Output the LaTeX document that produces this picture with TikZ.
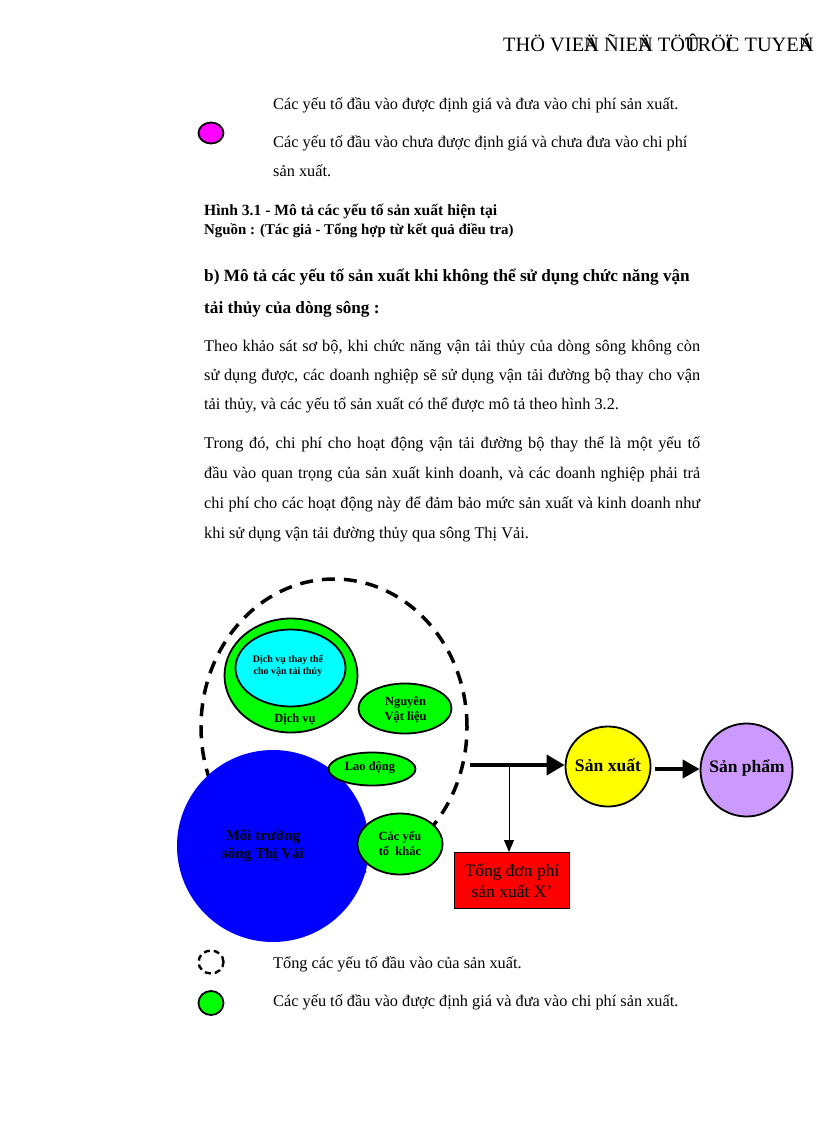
\documentclass[tikz,border=0pt]{standalone}
\usepackage{fontspec}
\setmainfont{Liberation Serif}
\usetikzlibrary{shapes.geometric,arrows.meta}
\definecolor{gr}{RGB}{0,255,0}
\definecolor{bl}{RGB}{0,0,255}
\definecolor{cy}{RGB}{0,255,255}
\definecolor{pu}{RGB}{204,153,255}
\definecolor{ye}{RGB}{255,255,0}
\definecolor{mg}{RGB}{255,0,255}
\newcommand{\sz}[1]{\fontsize{#1}{#1}\selectfont}
\tikzset{
 bodytxt/.style={anchor=base west,inner sep=0pt,font=\sz{16.3}},
 headtxt/.style={anchor=base west,inner sep=0pt,font=\bfseries\sz{17.2}},
 captxt/.style={anchor=base west,inner sep=0pt,font=\bfseries},
 ell/.style={ellipse,draw=black,line width=1.8pt,inner sep=0pt,align=center,font=\bfseries},
 lab/.style={inner sep=0pt,align=center,font=\bfseries},
 fatarr/.style={line width=4pt,-{Triangle[length=18pt,width=20pt]}},
 thinarr/.style={line width=1pt,-{Triangle[length=12pt,width=10pt]}},
}
\newcommand{\jl}[1]{\makebox[496pt][s]{#1}}
\begin{document}
\begin{tikzpicture}[x=1pt,y=-1pt]
\useasboundingbox (0,0) rectangle (816,1123);
\node[anchor=base west,inner sep=0pt,font=\sz{20.4}] (hdr) at (503,52) {THÖ VIE\rlap{Ä}N ÑIE\rlap{Ä}N TÖ\rlap{Û}TRÖ\rlap{Ï}C TUYE\rlap{Á}N};
\node[bodytxt] (t1) at (273,110) {Các yếu tố đầu vào được định giá và đưa vào chi phí sản xuất.};
\node[bodytxt] (t2) at (273,148) {Các yếu tố đầu vào chưa được định giá và chưa đưa vào chi phí};
\node[bodytxt] (t3) at (273,177) {sản xuất.};
\node[ell,fill=mg,minimum width=25pt,minimum height=21pt] (lg0) at (211,133) {};
\node[captxt,font=\bfseries\sz{15.6}] (c1) at (204,215) {Hình 3.1 - Mô tả các yếu tố sản xuất hiện tại};
\node[captxt,font=\bfseries\sz{14.9}] (c2) at (204,234) {Nguồn : (Tác giả - Tổng hợp từ kết quả điều tra)};
\node[headtxt] (h1) at (204,281) {b) Mô tả các yếu tố sản xuất khi không thể sử dụng chức năng vận};
\node[headtxt] (h2) at (204,313) {tải thủy của dòng sông :};
\node[bodytxt] (p1) at (204,351) {\jl{Theo khảo sát sơ bộ, khi chức năng vận tải thủy của dòng sông không còn}};
\node[bodytxt] (p2) at (204,380) {\jl{sử dụng được, các doanh nghiệp sẽ sử dụng vận tải đường bộ thay cho vận}};
\node[bodytxt] (p3) at (204,409) {tải thủy, và các yếu tố sản xuất có thể được mô tả theo hình 3.2.};
\node[bodytxt] (p4) at (204,448) {\jl{Trong đó, chi phí cho hoạt động vận tải đường bộ thay thế là một yếu tố}};
\node[bodytxt] (p5) at (204,478) {\jl{đầu vào quan trọng của sản xuất kinh doanh, và các doanh nghiệp phải trả}};
\node[bodytxt] (p6) at (204,508) {\jl{chi phí cho các hoạt động này để đảm bảo mức sản xuất và kinh doanh như}};
\node[bodytxt] (p7) at (204,538) {khi sử dụng vận tải đường thủy qua sông Thị Vải.};
% diagram
\node[ellipse,draw=black,line width=3.5pt,dash pattern=on 13pt off 9pt,minimum width=266pt,minimum height=296pt,inner sep=0pt] (tot) at (334,727) {};
\node[circle,fill=bl,minimum size=192pt,inner sep=0pt] (mt) at (273,846) {};
\node[lab,font=\bfseries\sz{15},text=black] (mtt) at (263,846) {Môi trường\\[3pt]sông Thị Vải};
\node[ell,fill=gr,minimum width=133pt,minimum height=114pt] (dv) at (291,675.5) {};
\node[ell,fill=cy,minimum width=110pt,minimum height=77pt] (dt) at (290.5,668) {};
\node[lab,font=\bfseries\sz{10}] (dtt) at (288,666) {Dịch vụ thay thế\\[2.5pt]cho vận tải thủy};
\node[lab,font=\bfseries\sz{12.5}] (dvt) at (295,719) {Dịch vụ};
\node[ell,fill=gr,minimum width=93pt,minimum height=50pt] (nv) at (405,708.5) {};
\node[lab,font=\bfseries\sz{12.5}] (nvt) at (405.5,710) {Nguyên\\[2.5pt]Vật liệu};
\node[ell,fill=gr,minimum width=87pt,minimum height=33pt] (ld) at (372,769) {};
\node[lab,font=\bfseries\sz{12.5}] (ldt) at (370,767) {Lao động};
\node[ell,fill=gr,minimum width=85pt,minimum height=61pt] (ky) at (400,844) {};
\node[lab,font=\bfseries\sz{12.5}] (kyt) at (400,844) {Các yếu\\[2.5pt]tố\ \ khác};
\node[ell,fill=ye,minimum width=85pt,minimum height=80pt] (sx) at (608,766.5) {};
\node[lab,font=\bfseries\sz{17.6}] (sxt) at (608,765) {Sản xuất};
\node[ell,fill=pu,minimum width=92pt,minimum height=93pt] (sp) at (746.5,770) {};
\node[lab,font=\bfseries\sz{17.5}] (spt) at (747,768) {Sản phẩm};
\node[draw=black,line width=1pt,fill=red,minimum width=115pt,minimum height=56pt,inner sep=0pt,align=center,font=\sz{17.5}] (tp) at (512,880.5) {Tổng đơn phí\\[3pt]sản xuất X’};
\coordinate (s) at (470,765);
\coordinate (j) at (509,765);
\draw[fatarr] (s) -- (sx.west |- s);
\draw[thinarr] (j) -- (j |- tp.north);
\coordinate (s2) at (655,769);
\draw[fatarr,-{Triangle[length=17pt,width=18pt]}] (s2) -- (sp.west |- s2);
% legend
\node[ellipse,draw=black,line width=2.4pt,dash pattern=on 6pt off 4pt,minimum width=25pt,minimum height=23pt,inner sep=0pt] (lg1) at (211,962) {};
\node[bodytxt] (l1) at (273,968) {Tổng các yếu tố đầu vào của sản xuất.};
\node[ell,fill=gr,minimum width=25pt,minimum height=24pt] (lg2) at (211,1003) {};
\node[bodytxt] (l2) at (273,1006) {Các yếu tố đầu vào được định giá và đưa vào chi phí sản xuất.};
\end{tikzpicture}
\end{document}
